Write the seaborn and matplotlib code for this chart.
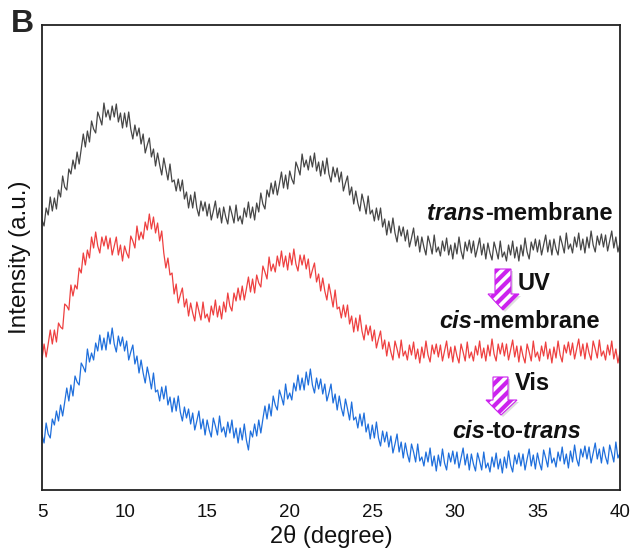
import numpy as np
import pandas as pd
import matplotlib
matplotlib.use("Agg")
import matplotlib.pyplot as plt
from matplotlib.patches import Polygon
from matplotlib.ticker import MultipleLocator
import seaborn as sns

# 2-theta grid: 5 to 40 degrees in 0.125 steps (8 readings per degree)
two_theta = [5 + 0.125 * i for i in range(281)]

trans_membrane = [
    270, 264, 282, 275, 293, 279, 292, 281,
    300, 293, 314, 303, 300, 321, 316, 330,
    321, 338, 326, 341, 356, 343, 359, 348,
    369, 361, 357, 378, 372, 365, 387, 373,
    380, 370, 384, 373, 386, 368, 377, 362,
    377, 363, 378, 361, 351, 365, 354, 362,
    346, 356, 337, 345, 352, 333, 341, 324,
    337, 325, 315, 332, 321, 310, 326, 308,
    310, 299, 311, 299, 310, 291, 298, 282,
    295, 282, 298, 282, 274, 289, 279, 288,
    274, 286, 270, 279, 289, 272, 282, 267,
    283, 273, 266, 284, 276, 267, 285, 269,
    274, 266, 282, 273, 288, 272, 283, 270,
    287, 278, 297, 286, 281, 300, 293, 307,
    296, 309, 295, 306, 318, 302, 315, 301,
    319, 311, 306, 328, 322, 315, 336, 323,
    330, 320, 334, 323, 337, 319, 328, 314,
    329, 316, 332, 316, 308, 323, 313, 322,
    308, 318, 299, 307, 314, 295, 303, 286,
    299, 287, 279, 296, 287, 276, 294, 276,
    280, 269, 282, 270, 282, 263, 271, 255,
    269, 257, 272, 257, 248, 264, 254, 263,
    249, 260, 243, 252, 262, 244, 254, 238,
    253, 243, 235, 254, 246, 236, 255, 238,
    243, 234, 249, 239, 252, 235, 245, 231,
    247, 236, 253, 239, 231, 248, 239, 250,
    237, 249, 233, 242, 252, 235, 246, 231,
    247, 237, 230, 248, 240, 231, 249, 233,
    238, 229, 245, 235, 249, 232, 243, 229,
    245, 234, 252, 238, 231, 248, 240, 251,
    238, 250, 235, 245, 255, 238, 250, 235,
    251, 241, 235, 254, 246, 237, 257, 241,
    246, 237, 253, 243, 257, 240, 251, 237,
    253, 242, 259, 245, 238, 254, 245, 256,
    243, 255, 239, 249, 259, 242, 253, 238,
    247,
]

cis_membrane = [
    131, 146, 133, 146, 160, 146, 160, 148,
    167, 163, 161, 186, 184, 180, 205, 194,
    205, 201, 222, 217, 237, 225, 240, 232,
    253, 242, 258, 244, 237, 253, 244, 254,
    241, 252, 235, 244, 253, 235, 245, 229,
    244, 237, 232, 254, 249, 242, 264, 250,
    258, 251, 268, 260, 276, 261, 273, 257,
    267, 249, 259, 237, 222, 232, 215, 217,
    196, 206, 187, 195, 202, 183, 191, 174,
    187, 177, 169, 188, 179, 170, 188, 172,
    176, 168, 184, 175, 190, 173, 184, 171,
    188, 178, 197, 184, 179, 197, 189, 202,
    190, 204, 190, 201, 213, 198, 211, 197,
    215, 207, 203, 224, 218, 211, 233, 219,
    226, 218, 234, 224, 239, 223, 234, 220,
    237, 225, 241, 226, 219, 235, 225, 235,
    221, 231, 212, 220, 227, 208, 216, 199,
    212, 199, 190, 206, 195, 183, 200, 181,
    183, 172, 185, 173, 185, 166, 174, 158,
    172, 159, 175, 159, 150, 165, 155, 164,
    149, 160, 142, 151, 159, 141, 150, 134,
    148, 138, 130, 149, 141, 132, 150, 134,
    139, 130, 145, 135, 148, 131, 141, 127,
    143, 132, 149, 135, 128, 145, 136, 146,
    133, 145, 129, 139, 149, 132, 143, 128,
    144, 134, 127, 146, 138, 129, 148, 132,
    138, 129, 144, 135, 149, 132, 142, 129,
    145, 134, 151, 136, 129, 146, 136, 147,
    134, 146, 130, 140, 150, 133, 144, 128,
    144, 134, 127, 146, 138, 129, 149, 133,
    138, 129, 144, 134, 148, 131, 141, 127,
    143, 132, 149, 135, 128, 145, 137, 148,
    135, 147, 131, 141, 151, 134, 146, 131,
    147, 137, 130, 149, 141, 132, 150, 134,
    139, 130, 145, 135, 149, 131, 141, 127,
    138,
]

cis_to_trans = [
    55, 47, 67, 56, 52, 71, 65, 79,
    69, 85, 74, 88, 102, 89, 105, 94,
    114, 108, 105, 127, 123, 118, 141, 128,
    137, 130, 147, 139, 155, 140, 152, 140,
    158, 146, 162, 146, 138, 154, 144, 153,
    139, 149, 130, 138, 145, 126, 134, 117,
    130, 117, 107, 123, 113, 101, 117, 98,
    100, 89, 103, 91, 104, 85, 93, 78,
    92, 79, 94, 78, 69, 83, 72, 81,
    66, 77, 60, 69, 79, 61, 71, 55,
    70, 60, 53, 72, 64, 55, 74, 58,
    63, 53, 68, 57, 70, 52, 62, 47,
    62, 50, 66, 50, 40, 59, 53, 66,
    54, 70, 57, 71, 84, 71, 86, 74,
    94, 85, 80, 100, 93, 85, 106, 91,
    97, 90, 107, 99, 115, 100, 112, 100,
    118, 105, 121, 105, 97, 112, 101, 111,
    96, 106, 89, 97, 106, 87, 96, 80,
    94, 82, 74, 91, 81, 70, 88, 70,
    73, 62, 76, 64, 77, 58, 66, 51,
    65, 52, 68, 52, 44, 59, 48, 58,
    43, 54, 37, 46, 56, 38, 48, 32,
    47, 36, 28, 46, 38, 28, 46, 29,
    33, 24, 38, 28, 42, 24, 34, 19,
    35, 24, 41, 27, 20, 37, 28, 39,
    26, 38, 22, 32, 42, 25, 36, 20,
    36, 26, 19, 37, 29, 20, 38, 22,
    27, 18, 33, 23, 37, 21, 31, 17,
    33, 22, 39, 25, 18, 35, 26, 37,
    24, 36, 20, 31, 41, 24, 35, 21,
    37, 27, 20, 40, 32, 23, 42, 27,
    32, 23, 38, 29, 43, 26, 36, 22,
    39, 28, 45, 31, 24, 41, 33, 44,
    31, 43, 27, 37, 47, 31, 41, 27,
    43, 33, 26, 45, 37, 28, 48, 32,
    37,
]

x_ticks = [5, 10, 15, 20, 25, 30, 35, 40]

sns.set_style("white")
plt.rcParams['font.family'] = ['Liberation Sans', 'DejaVu Sans']

W, H = 633, 552
fig = plt.figure(figsize=(W / 100, H / 100), dpi=100)
L, R, T, B = 42, 620, 25, 490
ax = fig.add_axes([L / W, (H - B) / H, (R - L) / W, (B - T) / H])

series = [
    (trans_membrane, "#464646"),
    (cis_membrane, "#ee4040"),
    (cis_to_trans, "#1f6fdc"),
]
for vals, col in series:
    df = pd.DataFrame({"x": two_theta, "y": vals})
    sns.lineplot(data=df, x="x", y="y", ax=ax, color=col, linewidth=0.9)

ax.set_xlim(5, 40)
ax.set_ylim(0, 465)
ax.set_xticks(x_ticks)
ax.xaxis.set_minor_locator(MultipleLocator(2.5))
ax.set_yticks([])
ax.tick_params(axis='x', which='major', direction='in', length=5, width=1.2,
               labelsize=13.5, pad=10, colors='#222222', labelcolor='#111111')
ax.tick_params(axis='x', which='minor', direction='in', length=3, width=1.2,
               colors='#222222')
for s in ax.spines.values():
    s.set_linewidth(1.3)
    s.set_color('#222222')

ax.set_xlabel("2θ (degree)", fontsize=17, labelpad=3, color='#111111')
ax.set_ylabel("Intensity (a.u.)", fontsize=17.5, labelpad=8, color='#111111')

fig.text(11 / W, 1 - 9 / H, "B", fontsize=23, fontweight='bold', ha='left', va='top')


def px(x, y):
    return ((x - L) / (R - L), (B - y) / (B - T))


def rich(parts, x, y, size=17):
    """parts: list of (text, italic)"""
    prev = None
    for txt, ital in parts:
        style = 'italic' if ital else 'normal'
        if prev is None:
            prev = ax.text(*px(x, y), txt, transform=ax.transAxes, fontsize=size,
                           fontweight='bold', fontstyle=style, ha='left', va='center',
                           color='#111111')
        else:
            prev = ax.annotate(txt, xy=(1, 0), xycoords=prev, fontsize=size,
                               fontweight='bold', fontstyle=style, ha='left',
                               va='bottom', color='#111111')


rich([("trans", True), ("-membrane", False)], 427, 214)
rich([("cis", True), ("-membrane", False)], 439, 322)
rich([("cis", True), ("-to-", False), ("trans", True)], 452, 432)

plt.rcParams['hatch.color'] = '#cc22ee'
plt.rcParams['hatch.linewidth'] = 3.0


def arrow(bx0, bx1, top, hy, hx0, hx1, tipx, tipy):
    pts = [(bx0, top), (bx1, top), (bx1, hy), (hx1, hy), (tipx, tipy),
           (hx0, hy), (bx0, hy)]
    shadow = [px(xx + 2, yy + 2) for xx, yy in pts]
    ax.add_patch(Polygon(shadow, closed=True, transform=ax.transAxes,
                         facecolor='#d0d0d0', edgecolor='none', alpha=0.7))
    poly = [px(xx, yy) for xx, yy in pts]
    ax.add_patch(Polygon(poly, closed=True, transform=ax.transAxes,
                         facecolor='white', edgecolor='#cc22ee', hatch='///',
                         linewidth=0.8))


arrow(495, 511, 269, 294, 488, 519, 503, 310)
arrow(493, 508, 377, 400, 486, 517, 501, 415)

ax.text(*px(518, 284), "UV", transform=ax.transAxes, fontsize=17,
        fontweight='bold', ha='left', va='center', color='#111111')
ax.text(*px(515, 384), "Vis", transform=ax.transAxes, fontsize=17,
        fontweight='bold', ha='left', va='center', color='#111111')

fig.savefig("out.png", dpi=100)
